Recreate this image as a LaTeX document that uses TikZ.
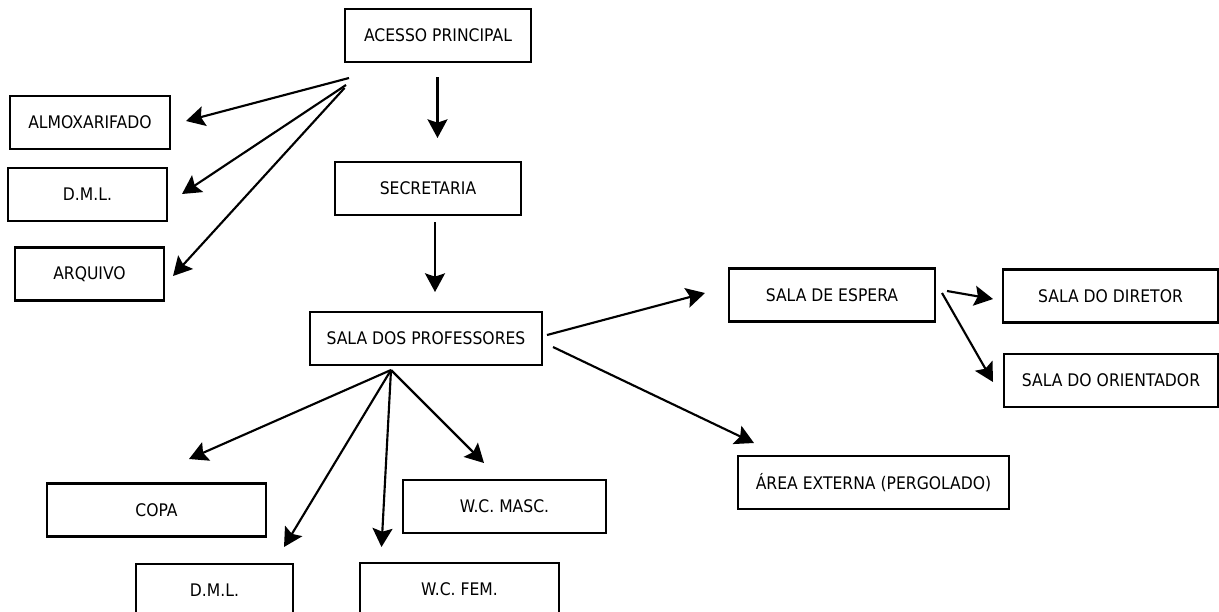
\documentclass[tikz,border=0pt]{standalone}
\usepackage{fontspec}
\setmainfont{DejaVu Sans}[FakeStretch=0.9]
\usetikzlibrary{arrows.meta}
\begin{document}
\begin{tikzpicture}[x=0.75pt, y=-0.75pt,
  box/.style={draw, line width=1.8pt, inner sep=0pt, minimum height=39.75pt, font=\fontsize{13}{15}\selectfont},
  arr/.style={line width=1.6pt, -{Stealth[length=14pt, width=15pt, inset=2.5pt]}}]
\useasboundingbox (0,0) rectangle (1219,611);
\node[box, minimum width=139.5pt] (acesso) at (438,35.5){ACESSO PRINCIPAL};
\node[box, minimum width=120pt] (almox) at (90,122.5){ALMOXARIFADO};
\node[box, minimum width=119.25pt] (dmla) at (87.5,194.5){D.M.L.};
\node[box, minimum width=111.75pt] (arquivo) at (89.5,274){ARQUIVO};
\node[box, minimum width=139.5pt] (secret) at (428,188.5){SECRETARIA};
\node[box, minimum width=174pt] (prof) at (426,338.5){SALA DOS PROFESSORES};
\node[box, minimum width=154.5pt] (espera) at (832,295){SALA DE ESPERA};
\node[box, minimum width=161.25pt] (diretor) at (1110.5,296){SALA DO DIRETOR};
\node[box, minimum width=160.5pt] (orient) at (1111,380.5){SALA DO ORIENTADOR};
\node[box, minimum width=203.25pt] (externa) at (873.5,482.5){ÁREA EXTERNA (PERGOLADO)};
\node[box, minimum width=164.25pt] (copa) at (156.5,510){COPA};
\node[box, minimum width=152.25pt] (wcmasc) at (504.5,506.5){W.C. MASC.};
\node[box, minimum width=117.75pt] (dmlb) at (214.5,590.5){D.M.L.};
\node[box, minimum width=149.25pt] (wcfem) at (459.5,589.5){W.C. FEM.};
% arrow ends
\coordinate (s0) at (349,78);
\coordinate (s1) at (346,85);
\coordinate (s2) at (344.5,88);
\coordinate (t0) at (186,121);
\coordinate (t1) at (182,194);
\coordinate (t2) at (173,276);
\coordinate (s3) at (437.5,77);
\coordinate (t3) at (437.5,138);
\coordinate (s4) at (435,222);
\coordinate (t4) at (435,292);
\coordinate (s5) at (547,335);
\coordinate (t5) at (705,293);
\coordinate (s6) at (553,347);
\coordinate (t6) at (754,443);
\coordinate (s7) at (947,291);
\coordinate (t7) at (993,299);
\coordinate (s8) at (942,293);
\coordinate (t8) at (993,382);
\coordinate (s9) at (391,370);
\coordinate (t9) at (189,459);
\coordinate (t10) at (284,547);
\coordinate (t11) at (381.5,547);
\coordinate (t12) at (484,463);
\draw[arr](s0) -- (t0);
\draw[arr](s1) -- (t1);
\draw[arr](s2) -- (t2);
\draw[arr](s3) -- (t3);
\draw[arr](s4) -- (t4);
\draw[arr](s5) -- (t5);
\draw[arr](s6) -- (t6);
\draw[arr](s7) -- (t7);
\draw[arr](s8) -- (t8);
\draw[arr](s9) -- (t9);
\draw[arr](s9) -- (t10);
\draw[arr](s9) -- (t11);
\draw[arr](s9) -- (t12);
\end{tikzpicture}
\end{document}
